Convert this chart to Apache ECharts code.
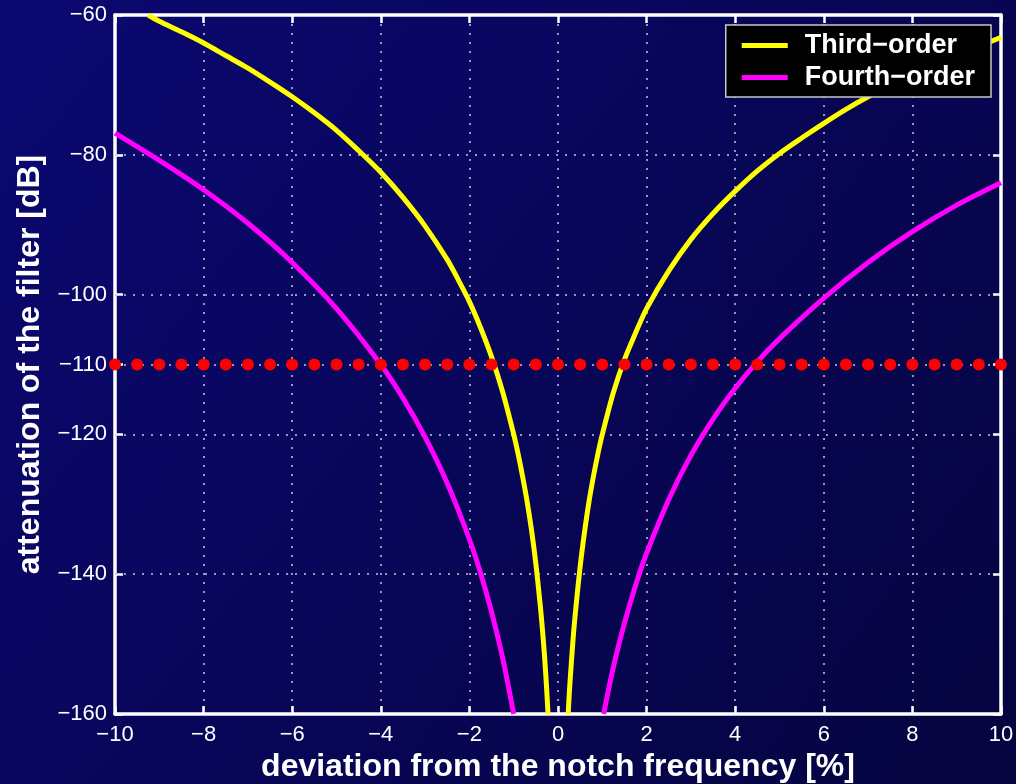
<!DOCTYPE html>
<html>
<head>
<meta charset="utf-8">
<script src="https://cdn.jsdelivr.net/npm/echarts@6/dist/echarts.min.js"></script>
<style>
html,body{margin:0;padding:0;background:#07055a;}
#c{width:1016px;height:784px;}
</style>
</head>
<body>
<div id="c"></div>
<script>
// ---- data ----
const thirdLeft = [[-9.25,-60],[-9,-60.9],[-8.5,-62.4],[-8,-64],[-7.5,-65.8],[-7,-67.6],[-6.5,-69.6],[-6,-71.7],[-5.5,-74],[-5,-76.5],[-4.5,-79.4],[-4,-82.5],[-3.5,-86.1],[-3,-90.2],[-2.5,-95],[-2.25,-97.9],[-2,-101],[-1.75,-104.7],[-1.5,-108.9],[-1.25,-113.9],[-1,-120],[-0.9,-122.8],[-0.8,-126],[-0.7,-129.5],[-0.6,-133.6],[-0.5,-138.5],[-0.4,-144.5],[-0.35,-148],[-0.3,-152.1],[-0.26,-156],[-0.225,-160]];
const thirdRight = [[0.23,-160],[0.26,-156.5],[0.3,-152.8],[0.35,-148.5],[0.4,-145],[0.5,-138.9],[0.6,-133.9],[0.7,-129.6],[0.8,-126],[0.9,-122.8],[1,-120],[1.25,-114],[1.5,-109.3],[1.75,-105.5],[2,-102],[2.5,-96.6],[3,-92.1],[3.5,-88.4],[4,-85.2],[4.5,-82.3],[5,-79.8],[5.5,-77.6],[6,-75.5],[6.5,-73.5],[7,-71.7],[7.5,-70.1],[8,-68.55],[8.5,-67.1],[9,-65.8],[9.5,-64.5],[10,-63.2]];
const fourthLeft = [[-10,-76.9],[-9,-80.8],[-8,-85],[-7,-89.8],[-6,-95.4],[-5,-102],[-4,-110],[-3.5,-114.8],[-3,-120.4],[-2.5,-127],[-2,-135],[-1.75,-139.8],[-1.5,-145.4],[-1.25,-152],[-1,-160]];
const fourthRight = [[1.03,-160],[1.25,-153.3],[1.5,-147],[1.75,-141.6],[2,-137],[2.5,-129.3],[3,-123],[3.5,-117.8],[4,-113.4],[4.5,-109.6],[5,-106.3],[6,-100.5],[7,-95.4],[8,-91],[9,-87.2],[10,-84]];
const limitX = [-10,-9.5,-9,-8.5,-8,-7.5,-7,-6.5,-6,-5.5,-5,-4.5,-4,-3.5,-3,-2.5,-2,-1.5,-1,-0.5,0,0.5,1,1.5,2,2.5,3,3.5,4,4.5,5,5.5,6,6.5,7,7.5,8,8.5,9,9.5,10];
const limitY = -110;
const yTicks = [-160,-140,-120,-110,-100,-80,-60];
const yGridLines = [-140,-120,-110,-100,-80];
const seriesNames = ['Third\u2212order','Fourth\u2212order'];
const xTitle = 'deviation from the notch frequency [%]';
const yTitle = 'attenuation of the filter [dB]';

const FONT = '"Liberation Sans", Arial, Helvetica, sans-serif';
const minus = v => String(v).replace('-', '\u2212');
const gridDot = {color:'#c8c8d8', width:1.5, type:[2,7]};

const chart = echarts.init(document.getElementById('c'), null, {renderer:'canvas'});
const axisLine = {show:true, onZero:false, lineStyle:{color:'#ffffff', width:3.5}};
const tickX = {show:true, inside:true, length:8, lineStyle:{color:'#ffffff', width:2.5}};
const tickY = {show:true, inside:true, length:8, customValues:yTicks, lineStyle:{color:'#ffffff', width:2.5}};
const smoothLevel = 0.3;
chart.setOption({
  backgroundColor: new echarts.graphic.LinearGradient(0,0,1,1,[
    {offset:0,color:'#0b0872'},{offset:1,color:'#05043e'}]),
  animation:false,
  grid:{left:115, right:15, top:15, bottom:70, containLabel:false, outerBoundsMode:'none'},
  legend:{
    data:seriesNames, orient:'vertical', right:25, top:25,
    backgroundColor:'#000000', borderColor:'#c8c8c8', borderWidth:1.5,
    padding:[7,16,6,16], itemGap:5, itemWidth:46, itemHeight:5, icon:'rect',
    textStyle:{color:'#ffffff', fontFamily:FONT, fontWeight:'bold', fontSize:27, padding:[0,0,0,12]}
  },
  xAxis:[
    {type:'value', min:-10, max:10, interval:2, position:'bottom',
      name:xTitle, nameLocation:'middle', nameGap:36,
      nameTextStyle:{color:'#ffffff', fontFamily:FONT, fontWeight:'bold', fontSize:32},
      axisLine:axisLine, axisTick:tickX,
      axisLabel:{color:'#ffffff', fontFamily:FONT, fontSize:22, margin:10, formatter:minus},
      splitLine:{show:true, lineStyle:gridDot}},
    {type:'value', min:-10, max:10, interval:2, position:'top',
      axisLine:axisLine, axisTick:tickX,
      axisLabel:{show:false}, splitLine:{show:false}}
  ],
  yAxis:[
    {type:'value', min:-160, max:-60, position:'left',
      name:yTitle, nameLocation:'middle', nameGap:66, nameRotate:90,
      nameTextStyle:{color:'#ffffff', fontFamily:FONT, fontWeight:'bold', fontSize:32},
      axisLine:axisLine, axisTick:tickY,
      axisLabel:{color:'#ffffff', fontFamily:FONT, fontSize:22, margin:8, padding:[9,0,0,0], formatter:minus, customValues:yTicks},
      splitLine:{show:false}},
    {type:'value', min:-160, max:-60, position:'right',
      axisLine:axisLine, axisTick:tickY,
      axisLabel:{show:false}, splitLine:{show:false}}
  ],
  series:[
    {type:'line', name:'grid', data:[], silent:true, z:1,
      markLine:{silent:true, symbol:'none', label:{show:false}, lineStyle:gridDot, animation:false, z:1,
        data:yGridLines.map(v=>({yAxis:v}))}},
    {type:'line', name:seriesNames[0], data:thirdLeft, smooth:smoothLevel, showSymbol:false, z:3,
      lineStyle:{color:'#ffff00', width:5}, itemStyle:{color:'#ffff00'}},
    {type:'line', name:seriesNames[0], data:thirdRight, smooth:smoothLevel, showSymbol:false, z:3,
      lineStyle:{color:'#ffff00', width:5}, itemStyle:{color:'#ffff00'}},
    {type:'line', name:seriesNames[1], data:fourthLeft, smooth:smoothLevel, showSymbol:false, z:3,
      lineStyle:{color:'#ff00ff', width:5}, itemStyle:{color:'#ff00ff'}},
    {type:'line', name:seriesNames[1], data:fourthRight, smooth:smoothLevel, showSymbol:false, z:3,
      lineStyle:{color:'#ff00ff', width:5}, itemStyle:{color:'#ff00ff'}},
    {type:'scatter', name:'limit', data:limitX.map(x=>[x,limitY]), symbol:'circle', symbolSize:12,
      itemStyle:{color:'#ff0000', borderWidth:0, opacity:1}, z:10, clip:false}
  ]
});
</script>
</body>
</html>
